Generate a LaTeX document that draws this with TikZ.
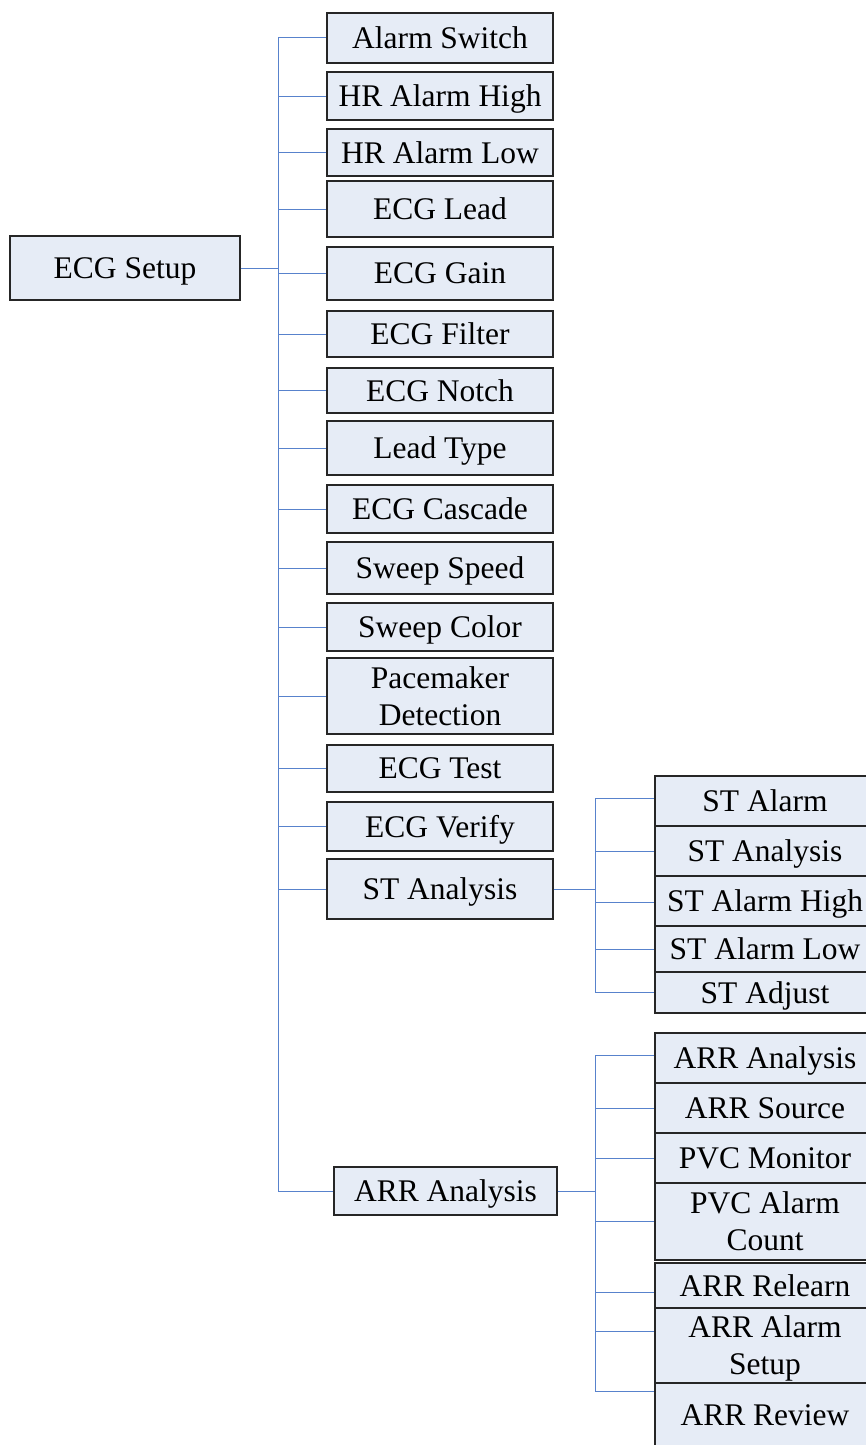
\documentclass[tikz,border=0pt]{standalone}
\usepackage{fontspec}
\setmainfont{Liberation Serif}
\usepackage{tikz}
\usetikzlibrary{calc}
\definecolor{boxfill}{RGB}{230,236,246}
\definecolor{boxline}{RGB}{38,38,38}
\definecolor{linkblue}{RGB}{88,130,204}

\begin{document}
\begin{tikzpicture}[x=1pt,y=-1pt,
    menubox/.style={draw=boxline,fill=boxfill,line width=1.3pt,inner sep=0pt,
      text depth=0pt,align=center,font=\fontsize{31.5}{37}\selectfont},
    link/.style={draw=linkblue,line width=1pt}]
  \useasboundingbox (0,0) rectangle (866,1445);
  % root
  \node[menubox,minimum width=230pt,minimum height=64pt](setup)at(125,268){ECG Setup};
  \coordinate (tk) at (278,0);
  \coordinate (sk) at (595,0);
  % first level
  \foreach \n/\y/\h/\t in {sw/38/50/Alarm Switch, hrh/96/48/HR Alarm High,
      hrl/152.5/47/HR Alarm Low, lead/209/56/ECG Lead, gain/273.5/53/ECG Gain,
      filter/334/46/ECG Filter, notch/390.5/45/ECG Notch, ltype/448/54/Lead Type,
      casc/509/48/ECG Cascade, sspeed/568/52/Sweep Speed, scolor/627/48/Sweep Color,
      pace/696/76/{Pacemaker\\Detection}, test/768.5/47/ECG Test,
      verify/826.5/49/ECG Verify, st/889/60/ST Analysis}
  {
    \node[menubox,minimum width=226pt,minimum height=\h pt](\n)at(440,\y){\t};
    \draw[link] (tk |- \n.west) -- (\n.west);
  }
  \node[menubox,minimum width=223pt,minimum height=48pt](arr)at(445.5,1191){ARR Analysis};
  \draw[link] (setup.east) -- (tk |- setup.east);
  \draw[link] (tk |- sw.west) -- (tk |- arr.west) -- (arr.west);
  % ST analysis
  \foreach \n/\y/\h/\d/\t in {sta/801/50/-3/ST Alarm, stan/851/50/0/ST Analysis,
      sth/901/50/1/ST Alarm High, stl/949/46/0/ST Alarm Low, stadj/992.5/41/0/ST Adjust}
  {
    \node[menubox,minimum width=220pt,minimum height=\h pt](\n)at(765,\y){\t};
    \coordinate (\n-in) at ($(\n.west)+(0,\d)$);
    \draw[link] (sk |- \n-in) -- (\n-in);
  }
  \draw[link] (st.east) -- (sk |- st.east);
  \draw[link] (sk |- sta-in) -- (sk |- stadj-in);
  % ARR analysis
  \foreach \n/\y/\h/\d/\t in {arra/1058/50/-3/ARR Analysis, arrs/1108/50/0/ARR Source,
      pvcm/1158/50/0/PVC Monitor, pvcc/1221.5/77/0/{PVC Alarm\\Count},
      relearn/1285.5/45/7/ARR Relearn, alset/1345.5/75/-14/{ARR Alarm\\Setup},
      review/1415/64/-24/ARR Review}
  {
    \node[menubox,minimum width=220pt,minimum height=\h pt](\n)at(765,\y){\t};
    \coordinate (\n-in) at ($(\n.west)+(0,\d)$);
    \draw[link] (sk |- \n-in) -- (\n-in);
  }
  \draw[link] (arr.east) -- (sk |- arr.east);
  \draw[link] (sk |- arra-in) -- (sk |- review-in);
\end{tikzpicture}
\end{document}
